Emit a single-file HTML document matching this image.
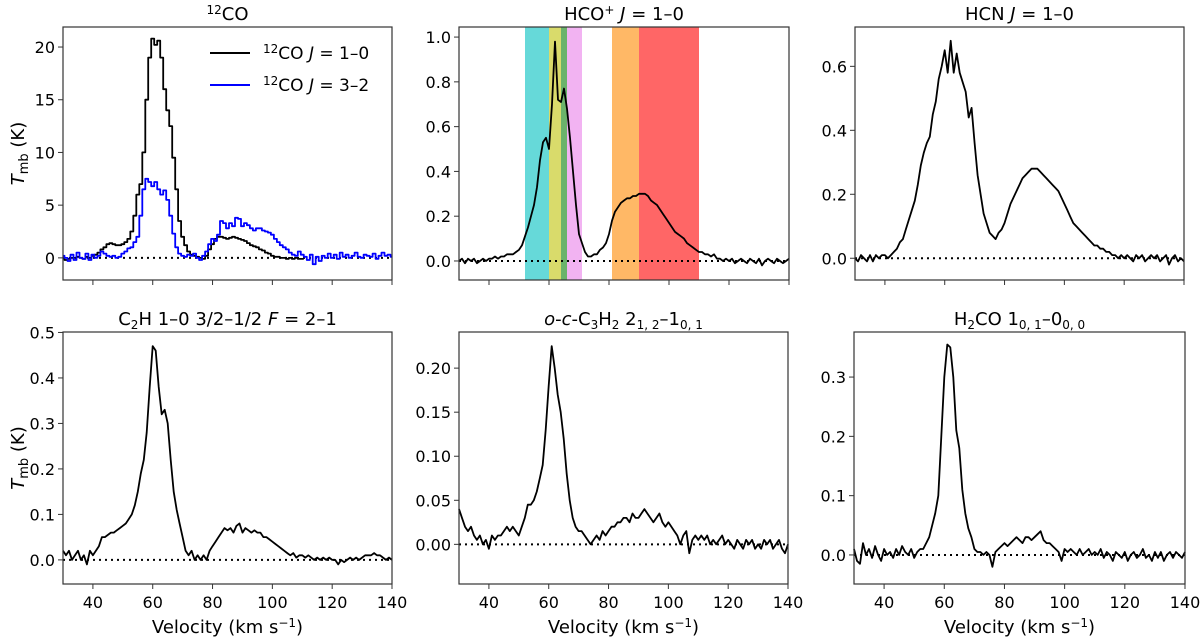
<!DOCTYPE html>
<html><head><meta charset="utf-8"><style>
body{margin:0;background:#fff;}
svg{display:block;font-family:"DejaVu Sans","Liberation Sans",sans-serif;}
</style></head><body>
<svg id="fig" width="1200" height="639" viewBox="0 0 1200 639"></svg>
<script>
const V0 = 30, DV = 1;
const co10 = [0,-0.2,-0.1,0,0,0.1,0,-0.1,0.1,0,0.2,0.3,0.5,0.8,1.0,1.3,1.4,1.3,1.2,1.2,1.3,1.5,1.8,2.5,4,6,7,10,15,19,20.8,20.2,20.6,19,16,14,12.5,9.5,6.5,3.5,2,1.2,0.6,0.3,0.2,0.1,0,-0.1,0.2,0.8,1.3,1.8,2.0,2.0,1.9,1.8,1.9,2.0,1.9,1.8,1.7,1.6,1.4,1.2,1.1,1.0,0.8,0.7,0.5,0.4,0.2,0.1,0.1,0,0,-0.1,0,-0.1,0,-0.1,-0.1];
const co32 = [0.2,0,-0.3,0.3,-0.2,0.5,0,-0.1,0.4,-0.2,0.3,0,0.2,0.6,0.4,0.2,0.1,0.2,0,0.1,0.4,0.6,0.9,1.0,1.5,2,4,6.5,7.5,7.2,6.8,7.2,6.5,6.0,6.4,5.5,4,2.3,1.0,0.4,0.2,0.1,0.3,0.2,0.4,0,-0.2,0.2,0.6,1.3,1.8,1.6,2.2,3.5,3.3,2.8,3.3,3.0,3.8,3.7,3.0,3.3,3.1,2.8,2.6,2.8,2.8,2.6,2.5,2.4,2.2,1.8,1.5,1.2,1.0,0.8,0.5,0.3,0.2,0.6,0.3,0.1,-0.2,0.3,-0.6,0.1,-0.3,0.2,0,0.4,0,0.3,-0.1,0.5,0.1,0.3,0,0.2,0.5,0.1,0,0.3,0.2,0.1,0.4,-0.1,0.2,0.5,0.2,0.3,0.1];
const hcop = [0,0.01,-0.01,0.01,0,0.01,-0.01,0,0.01,0,0.01,0.01,0.02,0.01,0.02,0.02,0.03,0.03,0.03,0.04,0.05,0.07,0.11,0.15,0.2,0.25,0.33,0.45,0.53,0.55,0.50,0.70,0.98,0.72,0.71,0.77,0.68,0.55,0.40,0.25,0.12,0.08,0.04,0.02,0.02,0.03,0.03,0.05,0.06,0.08,0.12,0.18,0.22,0.24,0.26,0.27,0.28,0.28,0.29,0.29,0.30,0.30,0.30,0.29,0.27,0.26,0.25,0.23,0.21,0.19,0.17,0.15,0.13,0.12,0.11,0.10,0.08,0.07,0.06,0.05,0.04,0.04,0.03,0.03,0.02,0.03,0.01,0.01,0.0,0.01,0.0,0.01,-0.01,0.0,0.01,0.0,-0.01,0.01,0.0,-0.01,0.01,-0.02,0.0,0.01,0.0,-0.01,0.01,0.0,-0.01,0.0,0.01];
const hcn = [0,-0.01,0.01,0,-0.01,0.01,-0.01,0.01,0,0.01,0.01,0,0.01,0.02,0.03,0.05,0.06,0.09,0.12,0.15,0.18,0.23,0.29,0.33,0.36,0.38,0.45,0.49,0.56,0.60,0.65,0.58,0.68,0.58,0.64,0.58,0.55,0.52,0.44,0.47,0.36,0.26,0.20,0.14,0.11,0.08,0.07,0.06,0.08,0.09,0.11,0.14,0.17,0.19,0.21,0.23,0.25,0.26,0.27,0.28,0.28,0.28,0.27,0.26,0.25,0.24,0.23,0.22,0.21,0.19,0.17,0.15,0.13,0.11,0.10,0.09,0.08,0.07,0.06,0.05,0.04,0.04,0.03,0.03,0.02,0.02,0.01,0.01,0.0,0.01,0.0,0.01,0,-0.01,0.01,0,0.01,-0.01,0,0.01,0,0.01,-0.01,0,0.01,-0.02,0,0.01,-0.01,0,-0.01];
const c2h = [0.02,0.01,0.02,0,0.01,0.02,0,0.01,-0.01,0.02,0.01,0.02,0.03,0.05,0.05,0.055,0.06,0.06,0.065,0.07,0.075,0.08,0.09,0.10,0.12,0.15,0.19,0.22,0.28,0.38,0.47,0.46,0.38,0.32,0.33,0.30,0.22,0.15,0.11,0.08,0.05,0.02,0.01,0.02,0.0,0.01,0.0,0.01,0,0.02,0.03,0.04,0.05,0.06,0.07,0.065,0.07,0.06,0.075,0.08,0.06,0.07,0.065,0.06,0.065,0.06,0.06,0.05,0.05,0.045,0.04,0.035,0.03,0.025,0.02,0.015,0.01,0.015,0.005,0.01,0.01,0.005,0.01,0.005,0,0.005,0,0.005,0,0.005,0,0,-0.01,0,-0.005,0,0.005,0,0.005,0,0.005,0.01,0.01,0.01,0.015,0.01,0.01,0.005,0,0.005,0];
const c3h2 = [0.04,0.03,0.02,0.015,0.02,0.01,0.005,0.01,0.0,0.005,-0.005,0.01,0.005,0.01,0.01,0.015,0.02,0.015,0.02,0.015,0.01,0.02,0.03,0.045,0.045,0.05,0.06,0.075,0.09,0.13,0.18,0.225,0.20,0.17,0.15,0.12,0.08,0.05,0.03,0.02,0.015,0.015,0.01,0.005,0.0,0.005,0.01,0.005,0.015,0.01,0.015,0.02,0.02,0.025,0.025,0.03,0.03,0.025,0.035,0.03,0.03,0.035,0.04,0.035,0.03,0.025,0.03,0.035,0.025,0.02,0.025,0.02,0.015,0.01,0.0,0.01,0.015,-0.01,0.005,0.01,0.005,0.01,0.005,0.01,0.0,0.005,0.0,0.005,0.01,0.0,0.005,0.0,-0.005,0.005,0.0,-0.005,0.005,0.0,0.005,-0.005,0.0,-0.005,0.005,0.0,0.005,-0.005,0.0,0.005,-0.005,-0.01,0.0];
const h2co = [0.01,-0.01,-0.015,0.02,0.0,0.01,-0.005,0.015,0.0,-0.01,0.01,0.0,0.005,-0.005,0.01,0.0,0.015,0.005,0.0,0.01,-0.005,0.005,0.01,0.01,0.02,0.03,0.05,0.07,0.1,0.2,0.3,0.355,0.35,0.30,0.21,0.18,0.11,0.07,0.045,0.03,0.01,0.005,0.005,0.0,0.005,0.0,-0.02,0.005,0.01,0.015,0.02,0.015,0.02,0.025,0.03,0.025,0.02,0.03,0.03,0.025,0.03,0.035,0.04,0.025,0.02,0.02,0.015,0.01,0.005,-0.01,0.01,0.005,0.01,0.005,0.0,0.01,0.0,0.005,0.01,0.0,0.005,0.0,0.01,-0.005,0.005,0.0,-0.01,0.005,0.0,-0.005,0.005,-0.01,0.0,0.005,-0.005,0.0,0.01,-0.005,0.0,-0.01,0.005,-0.005,0.005,-0.01,0.0,0.005,-0.005,0.005,0.0,-0.005,0.005];
const xTicks = [40,60,80,100,120,140];
const bandStarts = [52,60,64,66,81,90];
const bandEnds = [60,64,66,71,90,110];
const bandColors = ['#66d9d9','#d9db6b','#6bb36b','#f2b3f2','#ffb866','#ff6666'];

const NS='http://www.w3.org/2000/svg';
const svg=document.getElementById('fig');
function mk(tag,attrs,parent){const e=document.createElementNS(NS,tag);for(const k in attrs)e.setAttribute(k,attrs[k]);(parent||svg).appendChild(e);return e;}

function panel(p){
  const g=mk('g',{});
  
  
  const X=v=>p.x0+(v-30)/(140-30)*(p.x1-p.x0);
  const Y=t=>p.y1-(t-p.ymin)/(p.ymax-p.ymin)*(p.y1-p.y0);
  if(p.bands){
    for(let i=0;i<bandStarts.length;i++){
      const r=mk('rect',{x:X(bandStarts[i]),y:p.y0,width:X(bandEnds[i])-X(bandStarts[i]),height:p.y1-p.y0,fill:bandColors[i]},g);
      
      
    }
  }
  const z=mk('line',{x1:p.x0,x2:p.x1,y1:Y(0),y2:Y(0),stroke:'#000','stroke-width':2,'stroke-dasharray':'2,4'},g);
  
  
  p.series.forEach(s=>{
    let d='';
    s.data.forEach((t,i)=>{const v=V0+i*DV;const y=Y(t);
      if(p.steps){const xa=X(v-DV/2),xb=X(v+DV/2);
        d+=(i?'L':'M')+Math.max(xa,p.x0).toFixed(1)+','+y.toFixed(1)+'L'+Math.min(xb,p.x1).toFixed(1)+','+y.toFixed(1);}
      else d+=(i?'L':'M')+X(v).toFixed(1)+','+y.toFixed(1);});
    const pa=mk('path',{d:d,fill:'none',stroke:s.color,'stroke-width':1.8,'stroke-linejoin':'round'},g);
    
    
  });
  const fr=mk('rect',{x:p.x0,y:p.y0,width:p.x1-p.x0,height:p.y1-p.y0,fill:'none',stroke:'#333','stroke-width':1.2},g);
  
  
  xTicks.forEach(v=>{
    mk('line',{x1:X(v),x2:X(v),y1:p.y1,y2:p.y1+5,stroke:'#333'},g);
    if(p.xlabels){const t=mk('text',{x:X(v),y:p.y1+24,'text-anchor':'middle','font-size':16},g);t.textContent=v;
      
      }
  });
  p.yTicks.forEach(v=>{
    mk('line',{x1:p.x0-5,x2:p.x0,y1:Y(v),y2:Y(v),stroke:'#333'},g);
    const t=mk('text',{x:p.x0-8,y:Y(v)+6,'text-anchor':'end','font-size':16},g);t.textContent=v.toFixed(p.dec);
    
    
  });
  const ti=mk('text',{x:(p.x0+p.x1)/2,y:p.y0-7,'text-anchor':'middle','font-size':18},g);
  ti.innerHTML=p.title;
  
  
  if(p.xlabels){const t=mk('text',{x:(p.x0+p.x1)/2,y:633,'text-anchor':'middle','font-size':18},g);
    t.innerHTML='Velocity (km s<tspan dy="-6" font-size="12">−1</tspan><tspan dy="6">)</tspan>';
    
    }
  if(p.ylabel){const cy=(p.y0+p.y1)/2;const t=mk('text',{x:0,y:0,'text-anchor':'middle','font-size':18,transform:`translate(24,${cy}) rotate(-90)`},g);
    t.innerHTML='<tspan font-style="italic">T</tspan><tspan dy="4" font-size="13">mb</tspan><tspan dy="-4"> (K)</tspan>';
    
    }
  return {g,X,Y};
}
const r0=27,r1=280,b0=332,b1=584;
panel({name:'panel-12co',x0:63,x1:392,y0:r0,y1:r1,ymin:-2.1,ymax:21.9,yTicks:[0,5,10,15,20],dec:0,ylabel:true,steps:true,
  title:'<tspan dy="-6" font-size="12">12</tspan><tspan dy="6">CO</tspan>',
  series:[{data:co10,color:'#000',name:'co-10-line'},{data:co32,color:'#0000ff',name:'co-32-line'}]});
panel({name:'panel-hcop',x0:459,x1:789,y0:r0,y1:r1,ymin:-0.085,ymax:1.045,yTicks:[0,0.2,0.4,0.6,0.8,1.0],dec:1,bands:true,
  title:'HCO<tspan dy="-6" font-size="12">+</tspan><tspan dy="6"> <tspan font-style="italic">J</tspan> = 1–0</tspan>',
  series:[{data:hcop,color:'#000',name:'hcop-line'}]});
panel({name:'panel-hcn',x0:855,x1:1184,y0:r0,y1:r1,ymin:-0.068,ymax:0.723,yTicks:[0,0.2,0.4,0.6],dec:1,
  title:'HCN <tspan font-style="italic">J</tspan> = 1–0',series:[{data:hcn,color:'#000',name:'hcn-line'}]});
panel({name:'panel-c2h',x0:63,x1:392,y0:b0,y1:b1,ymin:-0.053,ymax:0.501,yTicks:[0,0.1,0.2,0.3,0.4,0.5],dec:1,ylabel:true,xlabels:true,
  title:'C<tspan dy="4" font-size="12">2</tspan><tspan dy="-4">H 1–0 3/2–1/2 <tspan font-style="italic">F</tspan> = 2–1</tspan>',
  series:[{data:c2h,color:'#000',name:'c2h-line'}]});
panel({name:'panel-c3h2',x0:459,x1:788,y0:b0,y1:b1,ymin:-0.045,ymax:0.241,yTicks:[0,0.05,0.1,0.15,0.2],dec:2,xlabels:true,
  title:'<tspan font-style="italic">o</tspan>-<tspan font-style="italic">c</tspan>-C<tspan dy="4" font-size="12">3</tspan><tspan dy="-4">H</tspan><tspan dy="4" font-size="12">2</tspan><tspan dy="-4"> 2</tspan><tspan dy="4" font-size="12">1, 2</tspan><tspan dy="-4">–1</tspan><tspan dy="4" font-size="12">0, 1</tspan>',
  series:[{data:c3h2,color:'#000',name:'c3h2-line'}]});
panel({name:'panel-h2co',x0:854,x1:1185,y0:b0,y1:b1,ymin:-0.049,ymax:0.376,yTicks:[0,0.1,0.2,0.3],dec:1,xlabels:true,
  title:'H<tspan dy="4" font-size="12">2</tspan><tspan dy="-4">CO 1</tspan><tspan dy="4" font-size="12">0, 1</tspan><tspan dy="-4">–0</tspan><tspan dy="4" font-size="12">0, 0</tspan>',
  series:[{data:h2co,color:'#000',name:'h2co-line'}]});
const lg=mk('g',{});


[['#000',53,'1–0','legend-entry-co10'],['#0000ff',85,'3–2','legend-entry-co32']].forEach(e=>{
  const it=mk('g',{},lg);
  
  
  mk('line',{x1:210,x2:250,y1:e[1],y2:e[1],stroke:e[0],'stroke-width':2},it);
  const t=mk('text',{x:263,y:e[1]+6,'font-size':17},it);
  t.innerHTML='<tspan dy="-6" font-size="12">12</tspan><tspan dy="6">CO <tspan font-style="italic">J</tspan> = '+e[2]+'</tspan>';
});
</script>
</body></html>
